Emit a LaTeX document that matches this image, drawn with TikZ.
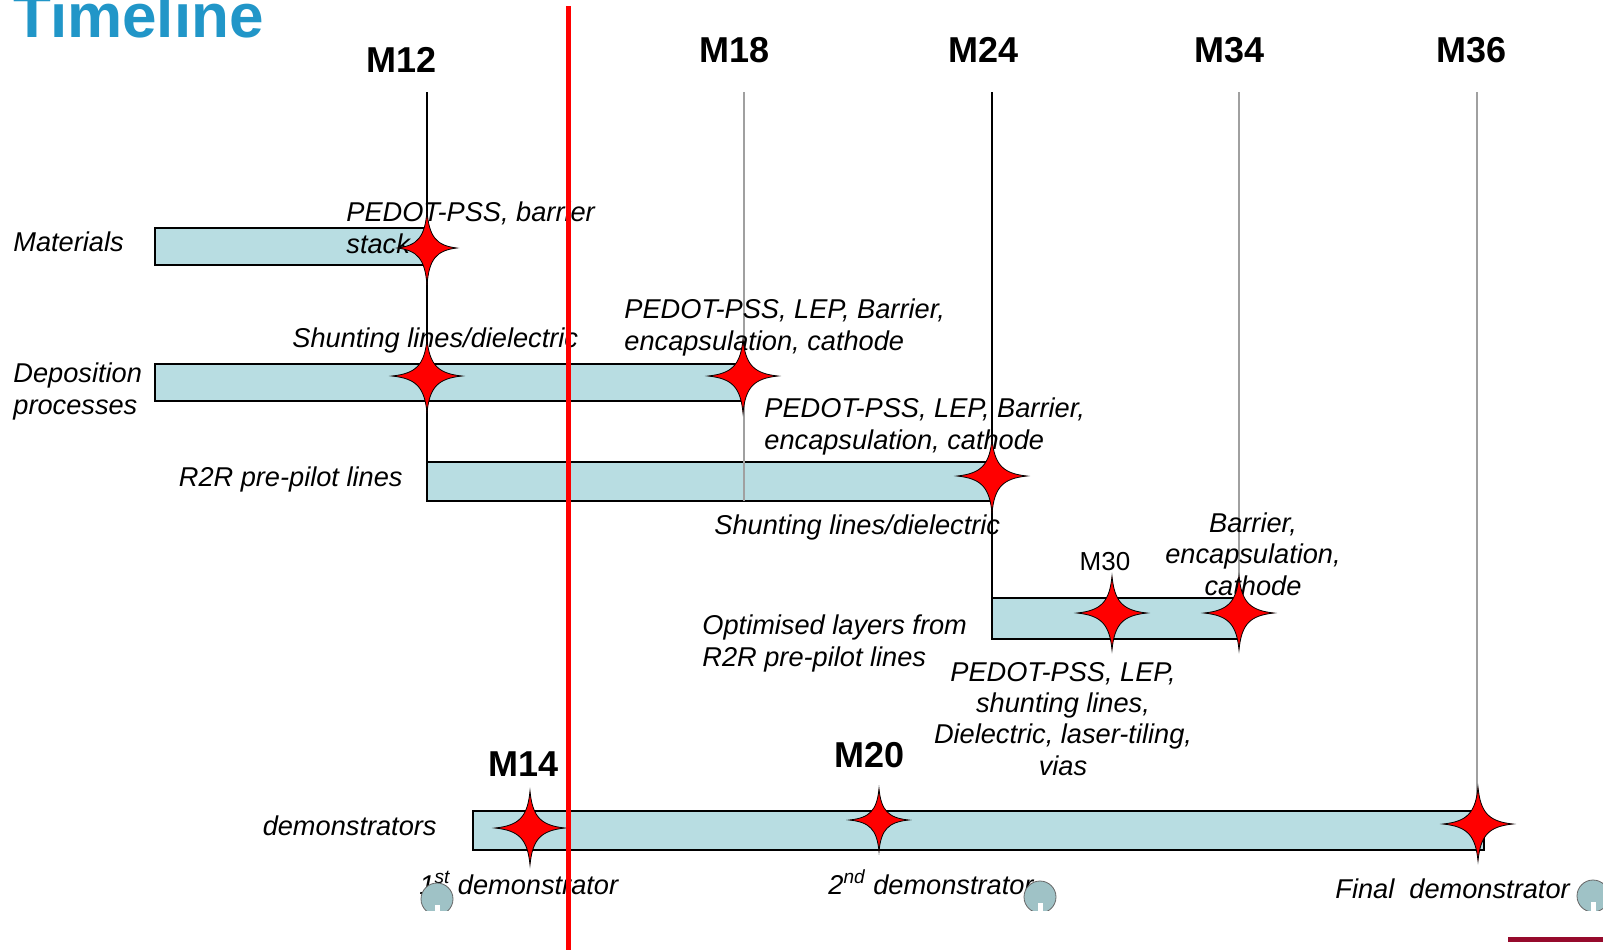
\documentclass[tikz,border=0pt]{standalone}
\usepackage{fontspec}
\setmainfont{Liberation Sans}
\definecolor{barblue}{HTML}{B8DDE2}
\definecolor{titleblue}{HTML}{2196C8}
\definecolor{linegray}{HTML}{A0A0A0}
\definecolor{iconblue}{HTML}{9FC2C6}
\definecolor{logored}{HTML}{960A2C}

\tikzset{
    mstar/.pic={
        \draw[black,line width=0.4pt,fill=red] (0,37) .. controls (2.5,11) and (11,2.5) .. (35,0)
            .. controls (11,-2.5) and (2.5,-11) .. (0,-37)
            .. controls (-2.5,-11) and (-11,-2.5) .. (-35,0)
            .. controls (-11,2.5) and (-2.5,11) .. (0,37) -- cycle;
    }
}

\begin{document}
\begin{tikzpicture}[x=0.5pt,y=-0.5pt,
    bar/.style={draw=black,line width=0.75pt,fill=barblue},
    msline/.style={line width=0.7pt},
    lbl/.style={font=\fontsize{13.6}{15.6}\selectfont\itshape,inner sep=0pt},
    mlbl/.style={font=\fontsize{18}{20}\selectfont\bfseries,inner sep=0pt,anchor=base},
    icon/.style={draw=black!60,line width=0.4pt,fill=iconblue}]
    \clip (0,0) rectangle (1603,950);
    \useasboundingbox (0,0) rectangle (1603,950);

    \node[font=\fontsize{31}{33}\selectfont\bfseries,text=titleblue,inner sep=0pt,anchor=base west] (title) at (13,37) {Timeline};

    \node[mlbl] (m12) at (402,72) {M12};
    \node[mlbl] (m18) at (735,62) {M18};
    \node[mlbl] (m24) at (984,62) {M24};
    \node[mlbl] (m34) at (1230,62) {M34};
    \node[mlbl] (m36) at (1472,62) {M36};
    \node[mlbl] (m14) at (524,776) {M14};
    \node[mlbl] (m20) at (870,767) {M20};
    \node[font=\fontsize{13}{15}\selectfont,inner sep=0pt,anchor=base] (m30) at (1105,570) {M30};

    \draw[bar] (155,228) rectangle (427,265);
    \draw[bar] (155,364) rectangle (744,401);
    \draw[bar] (427,462) rectangle (992,501);
    \draw[bar] (992,598) rectangle (1239,639);
    \draw[bar] (473,811) rectangle (1484,850);

    \draw[msline,black] (427,92) -- (427,501);
    \draw[msline,linegray] (744,92) -- (744,501);
    \draw[msline,black] (992,92) -- (992,639);
    \draw[msline,linegray] (1239,92) -- (1239,639);
    \draw[msline,linegray] (1477,92) -- (1477,850);

    \node[lbl,anchor=base west] (mat) at (13,251) {Materials};
    \node[lbl,anchor=base west,align=left] (dep) at (13,414) {Deposition\\processes};
    \node[lbl,anchor=base east] (r2r) at (403,486) {R2R pre-pilot lines};
    \node[lbl,anchor=base west,align=left] (opt) at (702,666) {Optimised layers from\\R2R pre-pilot lines};
    \node[lbl,anchor=base east] (demo) at (437,835) {demonstrators};

    \node[lbl,anchor=base west,align=left] (matout) at (346,253) {PEDOT-PSS, barrier\\stack};
    \node[lbl,anchor=base west] (depout) at (292,347) {Shunting lines/dielectric};
    \node[lbl,anchor=base west,align=left] (depout2) at (624,350) {PEDOT-PSS, LEP, Barrier,\\encapsulation, cathode};
    \node[lbl,anchor=base west,align=left] (r2rout) at (764,449) {PEDOT-PSS, LEP, Barrier,\\encapsulation, cathode};
    \node[lbl,anchor=base west] (r2rout2) at (714,534) {Shunting lines/dielectric};
    \node[lbl,anchor=base,align=center] (optout) at (1253,595) {Barrier,\\encapsulation,\\cathode};
    \node[lbl,anchor=base,align=center] (optout2) at (1063,775) {PEDOT-PSS, LEP,\\shunting lines,\\Dielectric, laser-tiling,\\vias};
    \node[lbl,anchor=base west] (demo1) at (419,894) {1\textsuperscript{st} demonstrator};
    \node[lbl,anchor=base west] (demo2) at (828,894) {2\textsuperscript{nd} demonstrator};
    \node[lbl,anchor=base west] (demo3) at (1335,898) {Final\ \ demonstrator};

    \pic[xscale=0.85] at (427,248) {mstar};
    \pic at (427,376) {mstar};
    \pic at (743,376) {mstar};
    \pic at (992,476) {mstar};
    \pic at (1112,613) {mstar};
    \pic at (1239,613) {mstar};
    \pic at (530,828) {mstar};
    \pic[scale=0.85] at (879,820) {mstar};
    \pic at (1478,824) {mstar};

    \begin{scope}
        \clip (0,0) rectangle (1603,910);
        \draw[icon] (437,899) circle[radius=16];
        \draw[icon] (1040,897) circle[radius=16];
        \draw[icon] (1593,896) circle[radius=16];
        \fill[white] (435,905) rectangle (440,912);
        \fill[white] (1038,903) rectangle (1043,912);
        \fill[white] (1591,902) rectangle (1596,912);
    \end{scope}

    \fill[logored] (1508,937) rectangle (1603,942);

    \draw[red,line width=2.5pt] (568,6) -- (568,950);
\end{tikzpicture}
\end{document}
